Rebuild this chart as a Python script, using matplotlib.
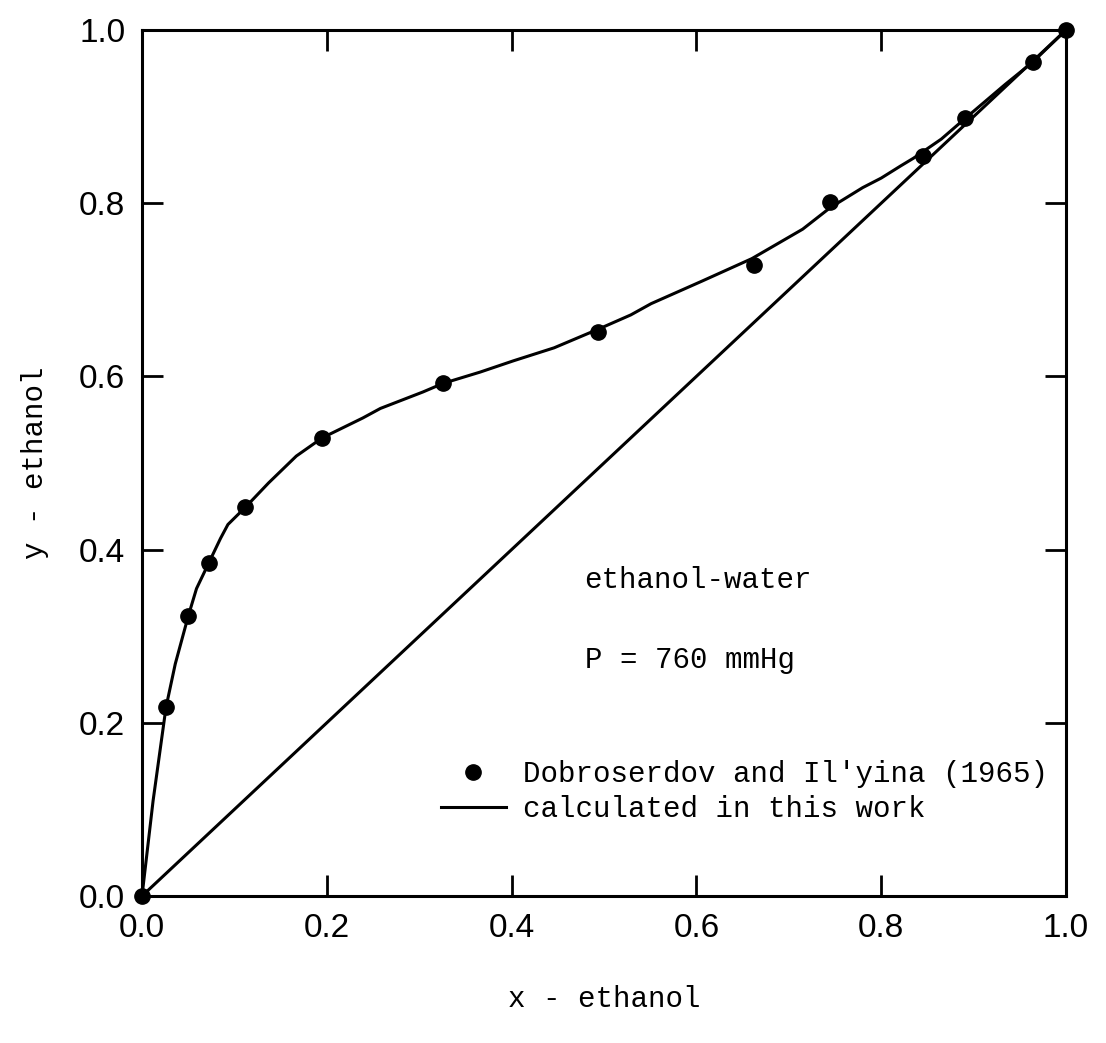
import matplotlib
matplotlib.use('Agg')
import matplotlib.pyplot as plt

# experimental points (Dobroserdov and Il'yina, 1965)
x_exp = [0.0, 0.026, 0.050, 0.072, 0.112, 0.195, 0.326, 0.493, 0.662, 0.745, 0.845, 0.891, 0.964, 1.0]
y_exp = [0.0, 0.218, 0.323, 0.384, 0.449, 0.529, 0.592, 0.651, 0.729, 0.801, 0.854, 0.898, 0.963, 1.0]

# calculated curve
x_calc = [0.0, 0.012, 0.026, 0.036, 0.050, 0.059, 0.072, 0.085, 0.093, 0.112, 0.137, 0.167,
          0.195, 0.239, 0.258, 0.304, 0.326, 0.366, 0.402, 0.446, 0.497, 0.529, 0.551, 0.606,
          0.660, 0.715, 0.745, 0.780, 0.800, 0.821, 0.835, 0.865, 0.891, 0.934, 0.964, 1.0]
y_calc = [0.0, 0.110, 0.218, 0.268, 0.323, 0.355, 0.384, 0.413, 0.429, 0.449, 0.477, 0.508,
          0.529, 0.552, 0.563, 0.582, 0.592, 0.605, 0.618, 0.633, 0.656, 0.671, 0.684, 0.710,
          0.736, 0.770, 0.795, 0.818, 0.829, 0.843, 0.852, 0.874, 0.898, 0.937, 0.963, 1.0]

ticks = [0.0, 0.2, 0.4, 0.6, 0.8, 1.0]
tick_labels = ['0.0', '0.2', '0.4', '0.6', '0.8', '1.0']

serif = 'Liberation Mono'
sans = 'Liberation Sans'

fig = plt.figure(figsize=(11.06, 10.43), dpi=100)
ax = fig.add_axes([142 / 1106, (1043 - 896) / 1043, 924 / 1106, 866 / 1043])

ax.plot([0, 1], [0, 1], color='black', lw=2.2)
line, = ax.plot(x_calc, y_calc, color='black', lw=2.2, label='calculated in this work')
pts, = ax.plot(x_exp, y_exp, 'o', color='black', ms=11, label="Dobroserdov and Il'yina (1965)",
               clip_on=False, zorder=5)

ax.set_xlim(0, 1)
ax.set_ylim(0, 1)
for s in ax.spines.values():
    s.set_linewidth(2.2)

ax.set_xticks(ticks)
ax.set_yticks(ticks)
ax.set_xticklabels(tick_labels, fontfamily=sans, fontsize=24)
ax.set_yticklabels(tick_labels, fontfamily=sans, fontsize=24)
ax.tick_params(direction='in', length=15, width=2, top=True, right=True)
ax.tick_params(axis='x', pad=12)
ax.tick_params(axis='y', pad=12)
# no tick marks at the corners
for axis in (ax.xaxis, ax.yaxis):
    mt = axis.get_major_ticks()
    for t in (mt[0], mt[-1]):
        t.tick1line.set_visible(False)
        t.tick2line.set_visible(False)

ax.set_xlabel('x - ethanol', fontfamily=serif, fontsize=21, labelpad=30)
ax.set_ylabel('y - ethanol', fontfamily=serif, fontsize=21, labelpad=22)

ax.text(0.479, 0.365, 'ethanol-water', transform=ax.transAxes, fontfamily=serif,
        fontsize=21, va='center')
ax.text(0.479, 0.273, 'P = 760 mmHg', transform=ax.transAxes, fontfamily=serif,
        fontsize=21, va='center')

ax.legend(handles=[pts, line], loc='upper left', bbox_to_anchor=(0.324, 0.157),
          frameon=False, numpoints=1, handlelength=2.2, handletextpad=0.6,
          labelspacing=0.25, borderpad=0, borderaxespad=0,
          prop={'family': serif, 'size': 21})

fig.savefig('out.png', dpi=100)
